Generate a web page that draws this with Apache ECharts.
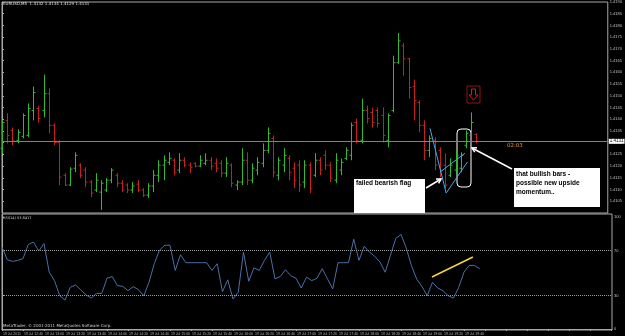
<!DOCTYPE html>
<html lang="en" style="height: 100%">
<head>
  <meta charset="utf-8">
  <title>EURUSD M5 with RSI</title>
  <script src="https://cdn.jsdelivr.net/npm/echarts@6.0.0/dist/echarts.min.js"></script>
</head>
<body style="height: 100%; margin: 0; background: #000">
  <div id="chart" style="width: 625px; height: 336px"></div>
  <script type="text/javascript">
    // one entry per 5 minute bar, oldest first
    const opens = [
      1.41276, 1.41395, 1.41352, 1.41310, 1.41327, 1.41331, 1.41437, 1.41446, 1.41437, 1.41509,
      1.41374, 1.41301, 1.41161, 1.41119, 1.41191, 1.41204, 1.41183, 1.41132, 1.41098, 1.41089,
      1.41098, 1.41140, 1.41161, 1.41127, 1.41119, 1.41098, 1.41123, 1.41098, 1.41076, 1.41115,
      1.41161, 1.41204, 1.41216, 1.41225, 1.41183, 1.41225, 1.41204, 1.41212, 1.41200, 1.41212,
      1.41225, 1.41212, 1.41212, 1.41170, 1.41204, 1.41119, 1.41132, 1.41225, 1.41140, 1.41183,
      1.41212, 1.41267, 1.41318, 1.41161, 1.41204, 1.41233, 1.41191, 1.41204, 1.41132, 1.41204,
      1.41161, 1.41225, 1.41246, 1.41204, 1.41140, 1.41183, 1.41233, 1.41246, 1.41386, 1.41310,
      1.41437, 1.41429, 1.41437, 1.41416, 1.41310, 1.41437, 1.41641, 1.41713, 1.41658, 1.41539,
      1.41471, 1.41374, 1.41267, 1.41310, 1.41267, 1.41204, 1.41161, 1.41183, 1.41191, 1.41289,
      1.41331, 1.41335
    ];
    const highs = [
      1.41395, 1.41425, 1.41365, 1.41357, 1.41425, 1.41467, 1.41539, 1.41458, 1.41590, 1.41531,
      1.41382, 1.41310, 1.41170, 1.41195, 1.41259, 1.41212, 1.41195, 1.41140, 1.41170, 1.41140,
      1.41149, 1.41191, 1.41170, 1.41140, 1.41127, 1.41132, 1.41140, 1.41106, 1.41127, 1.41183,
      1.41225, 1.41246, 1.41259, 1.41233, 1.41255, 1.41238, 1.41216, 1.41216, 1.41246, 1.41255,
      1.41238, 1.41233, 1.41225, 1.41238, 1.41212, 1.41140, 1.41276, 1.41259, 1.41212, 1.41238,
      1.41297, 1.41365, 1.41331, 1.41238, 1.41276, 1.41246, 1.41216, 1.41225, 1.41225, 1.41216,
      1.41255, 1.41238, 1.41267, 1.41216, 1.41255, 1.41233, 1.41280, 1.41386, 1.41403, 1.41488,
      1.41458, 1.41450, 1.41450, 1.41450, 1.41425, 1.41671, 1.41768, 1.41726, 1.41662, 1.41569,
      1.41480, 1.41395, 1.41331, 1.41323, 1.41280, 1.41255, 1.41233, 1.41267, 1.41259, 1.41352,
      1.41429, 1.41340
    ];
    const lows = [
      1.41255, 1.41297, 1.41289, 1.41297, 1.41318, 1.41323, 1.41395, 1.41386, 1.41408, 1.41340,
      1.41289, 1.41119, 1.41115, 1.41115, 1.41174, 1.41149, 1.41110, 1.41068, 1.41089, 1.41013,
      1.41089, 1.41127, 1.41110, 1.41089, 1.41085, 1.41085, 1.41089, 1.41068, 1.41064, 1.41089,
      1.41132, 1.41140, 1.41204, 1.41161, 1.41170, 1.41195, 1.41170, 1.41195, 1.41195, 1.41204,
      1.41183, 1.41174, 1.41153, 1.41153, 1.41110, 1.41098, 1.41119, 1.41119, 1.41127, 1.41161,
      1.41195, 1.41255, 1.41153, 1.41140, 1.41174, 1.41140, 1.41106, 1.41089, 1.41106, 1.41085,
      1.41153, 1.41161, 1.41183, 1.41132, 1.41127, 1.41161, 1.41225, 1.41225, 1.41297, 1.41297,
      1.41382, 1.41365, 1.41365, 1.41301, 1.41280, 1.41429, 1.41637, 1.41586, 1.41488, 1.41395,
      1.41344, 1.41225, 1.41238, 1.41183, 1.41153, 1.41106, 1.41153, 1.41170, 1.41174, 1.41276,
      1.41310, 1.41297
    ];
    const closes = [
      1.41386, 1.41331, 1.41310, 1.41344, 1.41416, 1.41446, 1.41514, 1.41403, 1.41509, 1.41374,
      1.41301, 1.41153, 1.41119, 1.41187, 1.41246, 1.41161, 1.41132, 1.41085, 1.41140, 1.41127,
      1.41140, 1.41183, 1.41127, 1.41098, 1.41098, 1.41115, 1.41098, 1.41076, 1.41115, 1.41161,
      1.41204, 1.41225, 1.41233, 1.41174, 1.41225, 1.41204, 1.41195, 1.41200, 1.41225, 1.41225,
      1.41200, 1.41191, 1.41170, 1.41212, 1.41127, 1.41132, 1.41225, 1.41140, 1.41191, 1.41216,
      1.41267, 1.41340, 1.41174, 1.41225, 1.41246, 1.41174, 1.41140, 1.41119, 1.41204, 1.41106,
      1.41225, 1.41183, 1.41204, 1.41149, 1.41225, 1.41216, 1.41267, 1.41374, 1.41310, 1.41437,
      1.41403, 1.41386, 1.41382, 1.41331, 1.41416, 1.41641, 1.41734, 1.41658, 1.41535, 1.41480,
      1.41374, 1.41267, 1.41318, 1.41204, 1.41183, 1.41119, 1.41204, 1.41246, 1.41246, 1.41340,
      1.41386, 1.41306
    ];
    // RSI(14) per bar
    const rsi = [
      73.2, 61.9, 60.4, 61.3, 62.8, 75.4, 77.7, 69.6, 76.3, 50.7,
      43.2, 29.7, 25.8, 37.2, 39.4, 34.9, 30.4, 27.6, 31.8, 31.8,
      45.3, 46.8, 38.7, 38.1, 34.2, 37.8, 35.1, 29.7, 41.7, 58.3,
      70.3, 74.8, 74.8, 52.3, 66.4, 59.2, 59.2, 59.2, 59.2, 59.2,
      52.3, 58.3, 33.3, 43.9, 26.8, 32.7, 68.7, 42.6, 54.7, 52.3,
      61.3, 68.7, 44.8, 46.8, 52.9, 47.7, 45.3, 36.6, 46.2, 43.2,
      45.3, 53.8, 44.8, 35.8, 59.2, 59.2, 59.2, 80.2, 61.3, 73.9,
      68.7, 64.9, 59.7, 50.7, 65.8, 80.8, 84.5, 72.5, 56.5, 44.5,
      38.0, 29.7, 41.7, 36.6, 34.2, 29.7, 27.6, 37.2, 50.7, 56.8,
      56.8, 53.8
    ];
    // time axis labels, one every 4 bars
    const timeLabels = [
      '19 Jul 2011', '19 Jul 12:40', '19 Jul 13:00', '19 Jul 13:20', '19 Jul 13:40', '19 Jul 14:00',
      '19 Jul 14:20', '19 Jul 14:40', '19 Jul 15:00', '19 Jul 15:20', '19 Jul 15:40', '19 Jul 16:00',
      '19 Jul 16:20', '19 Jul 16:40', '19 Jul 17:00', '19 Jul 17:20', '19 Jul 17:40', '19 Jul 18:00',
      '19 Jul 18:20', '19 Jul 18:40', '19 Jul 19:00', '19 Jul 19:20', '19 Jul 19:40'
    ];
    const rsiLevels = [30, 70];
    const rsiAxisValues = [0, 30, 70, 100];
    const bidPrice = 1.41306;
    // hand drawn trend lines (bar index, price)
    const flagLines = [
      [[82.1, 1.41361], [85.2, 1.41085]],
      [[84.0, 1.41174], [88.8, 1.41255]],
      [[85.2, 1.41085], [89.3, 1.41218]]
    ];
    const rsiLine = [[81.9, 46.4], [89.7, 64.3]];

    const UP = '#33b833';
    const DOWN = '#c42222';
    const FRAME = '#a8a8a8';

    const ohlc = opens.map((o, i) => [i, o, highs[i], lows[i], closes[i]]);
    const rsiData = rsi.map((v, i) => [i, v]);

    const chart = echarts.init(document.getElementById('chart'));
    const option = {
      backgroundColor: '#000',
      animation: false,
      grid: [
        { left: 2, right: 13, top: 1, height: 212, show: true, borderColor: FRAME, borderWidth: 1 },
        { left: 2, right: 13, top: 214, height: 116, show: true, borderColor: FRAME, borderWidth: 1 }
      ],
      xAxis: [
        { type: 'value', gridIndex: 0, min: 0, max: 116.2, show: false },
        {
          type: 'value', gridIndex: 1, min: 0, max: 116.2, interval: 4,
          axisLine: { lineStyle: { color: FRAME } },
          axisTick: { length: 2, lineStyle: { color: FRAME } },
          splitLine: { show: false },
          axisLabel: {
            color: '#b8b8b8', fontSize: 3.5, margin: 2, align: 'left', padding: [0, 0, 0, 1],
            showMaxLabel: false,
            formatter: v => timeLabels[Math.round(v / 4)] || ''
          }
        }
      ],
      yAxis: [
        {
          type: 'value', gridIndex: 0, position: 'right', min: 1.4100, max: 1.4190, interval: 0.0005,
          axisLine: { show: true, lineStyle: { color: FRAME } },
          axisTick: { show: true, length: 2, lineStyle: { color: FRAME } },
          splitLine: { show: false },
          axisLabel: {
            color: '#c0c0c0', fontSize: 4, margin: 2, showMinLabel: false,
            formatter: v => v.toFixed(4)
          }
        },
        {
          type: 'value', gridIndex: 1, position: 'right', min: -0.9, max: 102.7,
          axisLine: { show: true, lineStyle: { color: FRAME } },
          axisTick: { show: true, length: 2, customValues: rsiAxisValues, lineStyle: { color: FRAME } },
          splitLine: { show: false },
          axisLabel: { color: '#c0c0c0', fontSize: 4, margin: 2, customValues: rsiAxisValues }
        }
      ],
      series: [
        {
          type: 'custom',
          name: 'EURUSD',
          xAxisIndex: 0,
          yAxisIndex: 0,
          data: ohlc,
          encode: { x: 0, y: [1, 2, 3, 4] },
          renderItem: function (params, api) {
            const x = api.value(0);
            const o = api.coord([x, api.value(1)]);
            const h = api.coord([x, api.value(2)]);
            const l = api.coord([x, api.value(3)]);
            const c = api.coord([x, api.value(4)]);
            const color = api.value(4) >= api.value(1) ? UP : DOWN;
            const px = Math.round(o[0]) + 0.5;
            const st = { stroke: color, lineWidth: 1 };
            return {
              type: 'group',
              children: [
                { type: 'line', shape: { x1: px, y1: h[1], x2: px, y2: l[1] }, style: st },
                { type: 'line', shape: { x1: px - 2, y1: o[1], x2: px, y2: o[1] }, style: st },
                { type: 'line', shape: { x1: px, y1: c[1], x2: px + 2, y2: c[1] }, style: st }
              ]
            };
          },
          markLine: {
            silent: true,
            symbol: 'none',
            data: flagLines.map(seg => [
              { coord: seg[0], lineStyle: { color: '#45a8e8', type: 'solid', width: 1 }, label: { show: false } },
              { coord: seg[1] }
            ])
          }
        },
        {
          // bid price line
          type: 'line',
          name: 'Bid',
          xAxisIndex: 0,
          yAxisIndex: 0,
          data: [],
          markLine: {
            silent: true,
            symbol: 'none',
            data: [
              [
                {
                  coord: [0, bidPrice],
                  lineStyle: { color: '#808080', type: 'solid', width: 1 },
                  label: {
                    show: true, position: 'end', distance: 1, formatter: bidPrice.toFixed(4),
                    backgroundColor: '#fff', color: '#000', fontSize: 4.5, padding: [0, 1]
                  }
                },
                { coord: [116.2, bidPrice] }
              ]
            ]
          }
        },
        {
          type: 'line',
          name: 'RSI(14)',
          xAxisIndex: 1,
          yAxisIndex: 1,
          data: rsiData,
          showSymbol: false,
          lineStyle: { color: '#4d6ea6', width: 1 },
          markLine: {
            silent: true,
            symbol: 'none',
            data: rsiLevels.map(v => ({
              yAxis: v,
              lineStyle: { color: '#9a9a9a', type: 'dotted', width: 1 },
              label: { show: false }
            })).concat([[
              { coord: rsiLine[0], lineStyle: { color: '#f2d640', type: 'solid', width: 1.5 }, label: { show: false } },
              { coord: rsiLine[1] }
            ]])
          }
        }
      ],
      graphic: [
        { type: 'text', left: 3, top: 2, style: { text: 'EURUSD,M5  1.4132 1.4134 1.4129 1.4131', fill: '#e0e0e0', fontSize: 4, fontFamily: 'DejaVu Sans' } },
        { type: 'text', left: 3, top: 216, style: { text: 'RSI(14) 53.8417', fill: '#d0d0d0', fontSize: 3.5, fontFamily: 'DejaVu Sans' } },
        { type: 'text', left: 3, top: 324, style: { text: 'MetaTrader, \u00a9 2001-2011 MetaQuotes Software Corp.', fill: '#d0d0d0', fontSize: 4, fontFamily: 'DejaVu Sans' } },
        // text boxes
        { type: 'rect', shape: { x: 354, y: 179, width: 71, height: 34 }, style: { fill: '#fff' } },
        { type: 'text', x: 356, y: 180, style: { text: 'failed bearish flag', fill: '#000', fontSize: 6.5, fontWeight: 'bold', fontFamily: 'Liberation Sans' } },
        { type: 'rect', shape: { x: 514, y: 168, width: 86, height: 39 }, style: { fill: '#fff' } },
        { type: 'text', x: 516, y: 170, style: { text: 'that bullish bars -\npossible new upside\nmomentum..', lineHeight: 9, fill: '#000', fontSize: 6.5, fontWeight: 'bold', fontFamily: 'Liberation Sans' } },
        // box round the bullish bars
        { type: 'rect', shape: { x: 457, y: 129, width: 14, height: 58, r: 4 }, style: { fill: 'none', stroke: '#fff', lineWidth: 1 } },
        // arrows
        { type: 'polyline', shape: { points: [[426, 188], [441, 179]] }, style: { stroke: '#fff', lineWidth: 1.5 } },
        { type: 'polyline', shape: { points: [[436, 179.1], [441, 179], [438.6, 183.4]] }, style: { stroke: '#fff', lineWidth: 1.5, fill: 'none' } },
        { type: 'polyline', shape: { points: [[512, 169], [472, 148]] }, style: { stroke: '#fff', lineWidth: 1.5 } },
        { type: 'polyline', shape: { points: [[474.7, 152.2], [472, 148], [477, 147.8]] }, style: { stroke: '#fff', lineWidth: 1.5, fill: 'none' } },
        // bar countdown
        { type: 'text', x: 507, y: 143, style: { text: '02:03', fill: '#e8923c', fontSize: 5.5, fontFamily: 'DejaVu Sans' } },
        // sell arrow
        { type: 'rect', shape: { x: 467, y: 86, width: 13, height: 17 }, style: { fill: 'none', stroke: '#8c1414', lineWidth: 1 } },
        { type: 'polygon', shape: { points: [[471.5, 89], [475.5, 89], [475.5, 95], [478, 95], [473.5, 100], [469, 95], [471.5, 95]] }, style: { fill: 'none', stroke: '#c42020', lineWidth: 1 } }
      ]
    };
    chart.setOption(option);
  </script>
</body>
</html>
